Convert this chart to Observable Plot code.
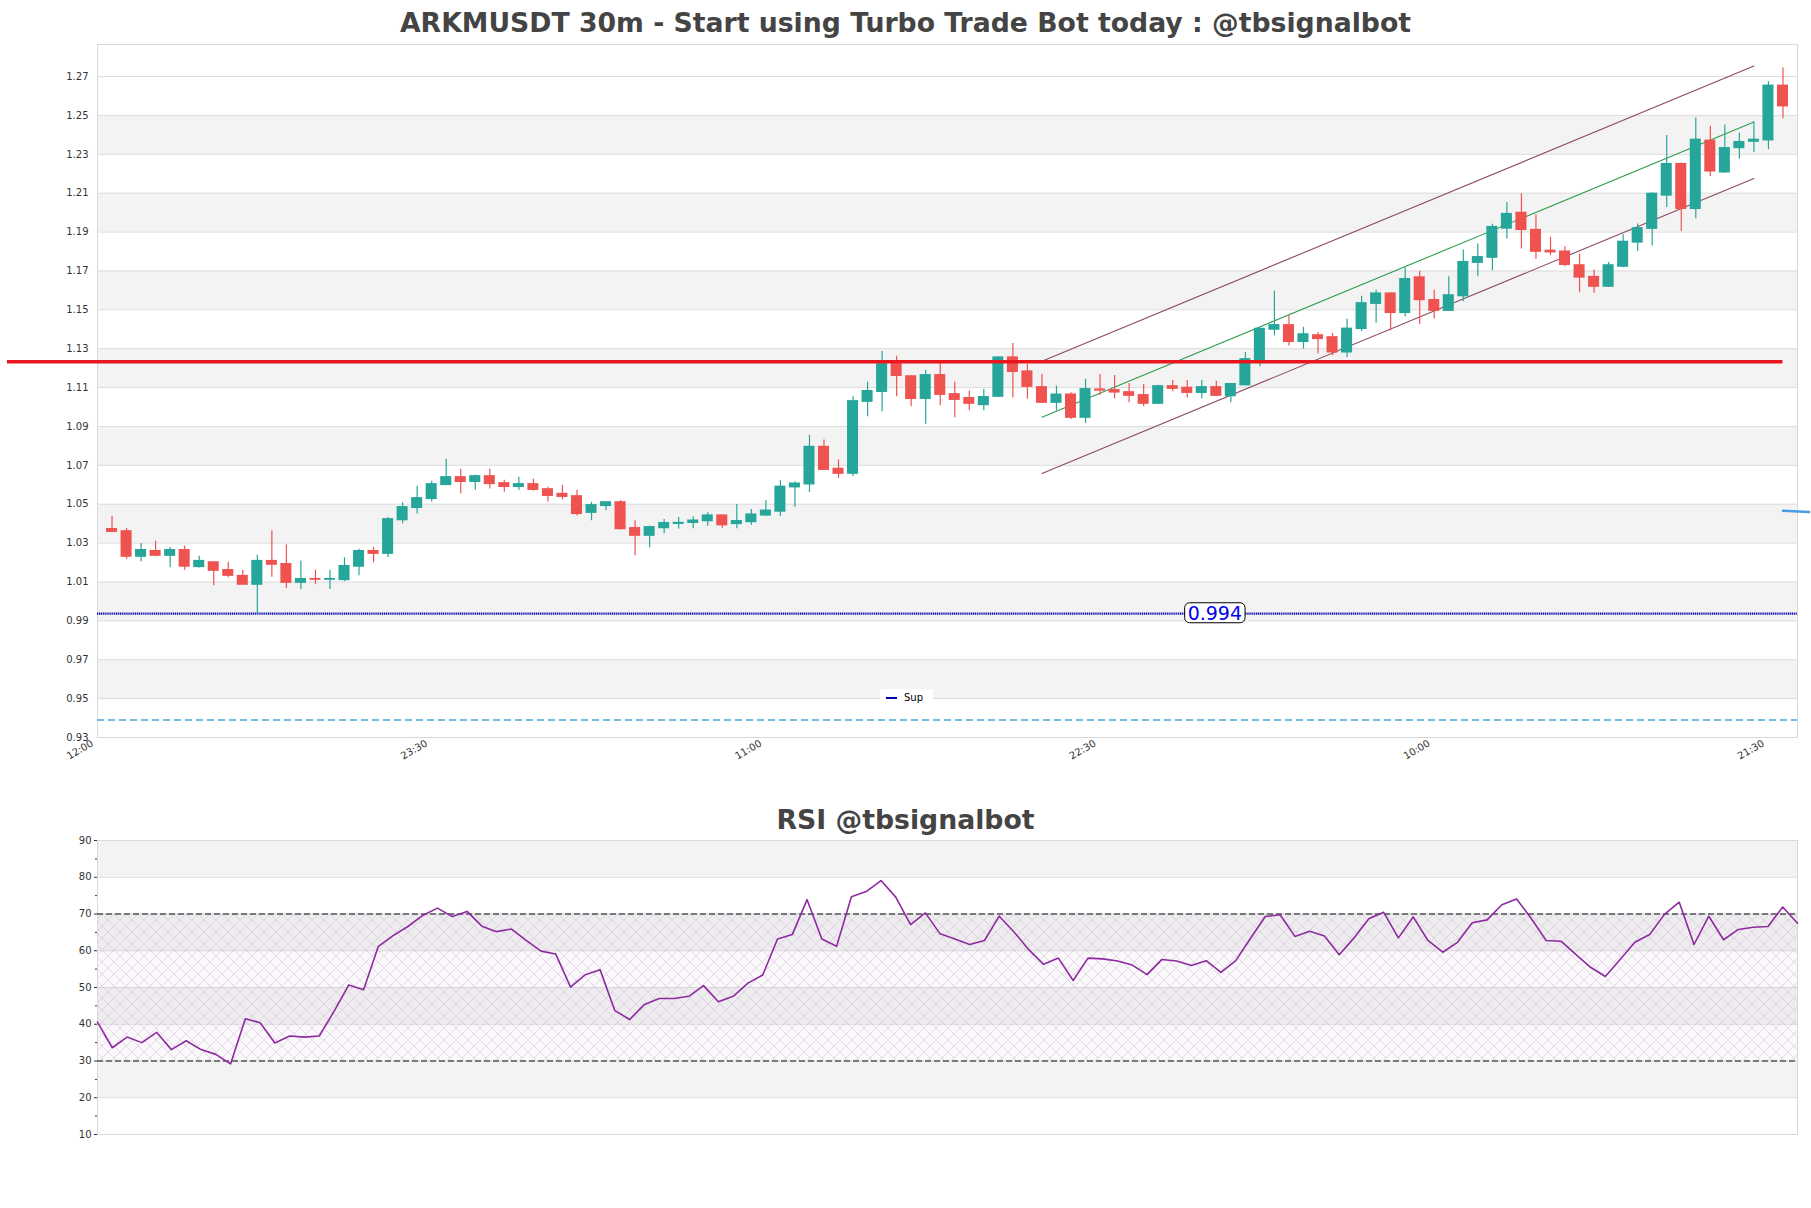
<!DOCTYPE html>
<html><head><meta charset="utf-8">
<script src="https://cdn.jsdelivr.net/npm/d3@7"></script>
<script src="https://cdn.jsdelivr.net/npm/@observablehq/plot@0.6"></script>
<style>
body{margin:0;background:#fff;width:1811px;height:1208px;position:relative;overflow:hidden;font-family:"DejaVu Sans",sans-serif}
.title{position:absolute;left:0;width:1811px;text-align:center;font-weight:bold;font-size:26.7px;color:#444;z-index:2;font-family:"DejaVu Sans",sans-serif}
#main{position:absolute;left:0;top:0}
#rsi{position:absolute;left:0;top:800px}
#legend{position:absolute;left:880px;top:689px;width:53px;height:17px;background:#fff;border-radius:3px;font-size:10px;color:#000;z-index:3;display:flex;align-items:center}
#legend span.sw{display:inline-block;width:11px;height:2px;background:#0000b0;margin:0 7px 0 6px}
</style></head><body>
<div class="title" style="top:7px">ARKMUSDT 30m - Start using Turbo Trade Bot today : @tbsignalbot</div>
<div id="main"></div>
<div class="title" style="top:804px">RSI @tbsignalbot</div>
<div id="rsi"></div>
<div id="legend"><span class="sw"></span>Sup</div>
<script>
// ---- data ----
const tickIdx = [0, 23, 46, 69, 92, 115];
const tickLabels = ["12:00", "23:30", "11:00", "22:30", "10:00", "21:30"];
const yTicks = [0.93,0.95,0.97,0.99,1.01,1.03,1.05,1.07,1.09,1.11,1.13,1.15,1.17,1.19,1.21,1.23,1.25,1.27];
const bandStarts = [0.95,0.99,1.03,1.07,1.11,1.15,1.19,1.23];
const open = [1.0372,1.0361,1.0230,1.0259,1.0235,1.0264,1.0177,1.0201,1.0161,1.0131,1.0086,1.0208,1.0192,1.0096,1.0115,1.0112,1.0110,1.0179,1.0259,1.0245,
1.0418,1.0481,1.0527,1.0599,1.0639,1.0615,1.0644,1.0608,1.0589,1.0603,1.0577,1.0553,1.0541,1.0456,1.0491,1.0510,1.0377,1.0338,1.0377,1.0399,
1.0404,1.0413,1.0442,1.0398,1.0408,1.0442,1.0462,1.0587,1.0602,1.0795,1.0682,1.0657,1.1027,1.1078,1.1220,1.1158,1.1042,1.1164,1.1066,1.1046,
1.1010,1.1053,1.1255,1.1183,1.1102,1.1022,1.1064,1.0945,1.1090,1.1087,1.1076,1.1061,1.1017,1.1107,1.1099,1.1073,1.1102,1.1056,1.1112,1.1241,
1.1398,1.1421,1.1335,1.1369,1.1359,1.1281,1.1402,1.1531,1.1584,1.1484,1.1667,1.1550,1.1495,1.1570,1.1742,1.1768,1.1918,1.1999,1.1911,1.1804,
1.1800,1.1729,1.1669,1.1619,1.1722,1.1846,1.1917,1.2088,1.2250,1.2019,1.2370,1.2207,1.2332,1.2365,1.2372,1.2653];
const high = [1.0438,1.0375,1.0298,1.0310,1.0278,1.0285,1.0233,1.0204,1.0202,1.0161,1.0238,1.0363,1.0290,1.0208,1.0161,1.0161,1.0225,1.0269,1.0278,1.0432,
1.0507,1.0592,1.0618,1.0731,1.0680,1.0650,1.0680,1.0623,1.0639,1.0628,1.0587,1.0597,1.0572,1.0510,1.0510,1.0519,1.0415,1.0387,1.0421,1.0432,
1.0435,1.0456,1.0445,1.0498,1.0473,1.0519,1.0621,1.0616,1.0855,1.0831,1.0728,1.1053,1.1128,1.1286,1.1261,1.1160,1.1189,1.1232,1.1128,1.1082,
1.1090,1.1258,1.1327,1.1219,1.1167,1.1107,1.1073,1.1143,1.1167,1.1162,1.1121,1.1116,1.1112,1.1136,1.1136,1.1136,1.1133,1.1120,1.1280,1.1405,
1.1596,1.1470,1.1410,1.1383,1.1378,1.1452,1.1570,1.1601,1.1587,1.1716,1.1699,1.1601,1.1670,1.1808,1.1839,1.1940,1.2052,1.2097,1.1988,1.1873,
1.1825,1.1786,1.1705,1.1743,1.1886,1.1941,1.2103,1.2397,1.2255,1.2487,1.2444,1.2451,1.2410,1.2466,1.2674,1.2744];
const low = [1.0353,1.0216,1.0204,1.0230,1.0173,1.0161,1.0172,1.0081,1.0122,1.0086,0.9936,1.0124,1.0066,1.0061,1.0086,1.0061,1.0102,1.0132,1.0199,1.0226,
1.0399,1.0450,1.0512,1.0599,1.0553,1.0572,1.0579,1.0562,1.0572,1.0568,1.0512,1.0522,1.0440,1.0415,1.0466,1.0367,1.0235,1.0276,1.0348,1.0372,
1.0374,1.0387,1.0377,1.0374,1.0392,1.0437,1.0437,1.0483,1.0561,1.0672,1.0633,1.0643,1.0950,1.0976,1.1053,1.1001,1.0911,1.1007,1.0945,1.0981,
1.0981,1.1049,1.1047,1.1040,1.1018,1.0981,1.0936,1.0915,1.1059,1.1042,1.1022,1.1001,1.1013,1.1078,1.1047,1.1042,1.1053,1.1022,1.1109,1.1207,
1.1366,1.1314,1.1298,1.1273,1.1264,1.1254,1.1388,1.1431,1.1391,1.1464,1.1424,1.1453,1.1491,1.1541,1.1670,1.1701,1.1864,1.1813,1.1759,1.1778,
1.1722,1.1588,1.1585,1.1616,1.1717,1.1800,1.1828,1.2026,1.1903,1.1968,1.2186,1.2203,1.2276,1.2310,1.2324,1.2483];
const close = [1.0358,1.0230,1.0264,1.0235,1.0264,1.0179,1.0208,1.0158,1.0132,1.0086,1.0208,1.0189,1.0096,1.0115,1.0112,1.0115,1.0182,1.0259,1.0245,1.0423,
1.0485,1.0531,1.0603,1.0639,1.0615,1.0644,1.0604,1.0589,1.0603,1.0574,1.0543,1.0538,1.0450,1.0495,1.0510,1.0372,1.0338,1.0382,1.0403,1.0404,
1.0416,1.0442,1.0392,1.0413,1.0447,1.0467,1.0590,1.0606,1.0795,1.0677,1.0657,1.1030,1.1082,1.1220,1.1160,1.1042,1.1164,1.1063,1.1037,1.1017,
1.1051,1.1255,1.1181,1.1104,1.1022,1.1064,1.0945,1.1092,1.1085,1.1075,1.1058,1.1017,1.1107,1.1094,1.1073,1.1102,1.1058,1.1118,1.1246,1.1402,
1.1421,1.1335,1.1374,1.1350,1.1281,1.1403,1.1534,1.1584,1.1484,1.1658,1.1550,1.1495,1.1575,1.1746,1.1771,1.1926,1.1993,1.1911,1.1799,1.1796,
1.1731,1.1666,1.1619,1.1729,1.1850,1.1920,1.2097,1.2250,1.2019,1.2375,1.2212,1.2332,1.2363,1.2375,1.2653,1.2547];
const rsiValues = [40.6,33.6,36.5,35.0,37.8,33.1,35.5,33.1,31.8,29.2,41.5,40.4,34.9,36.8,36.5,36.8,43.5,50.7,49.4,61.2,
64.1,66.6,69.6,71.6,69.3,70.7,66.7,65.2,65.9,62.8,59.9,59.1,50.1,53.5,54.8,43.7,41.3,45.4,47.0,47.0,
47.6,50.5,46.1,47.6,51.2,53.4,63.2,64.4,73.9,63.2,61.2,74.7,76.1,79.1,74.6,67.1,70.3,64.6,63.2,61.7,
62.8,69.4,65.1,60.3,56.3,58.0,51.9,58.0,57.8,57.2,56.1,53.5,57.6,57.2,56.0,57.3,54.1,57.3,63.4,69.3,
69.8,63.9,65.3,64.0,58.9,63.5,68.7,70.5,63.5,69.2,62.8,59.6,62.3,67.6,68.4,72.5,74.1,68.7,62.8,62.6,
59.0,55.5,53.0,57.6,62.3,64.4,69.9,73.2,61.7,69.4,63.0,65.8,66.4,66.6,71.9,67.5];
const rsiTicks = [10,20,30,40,50,60,70,80,90];
const rsiMinor = [15,25,35,45,55,65,75,85];
const rsiBands = [20,40,60,80];
const rsiLevels = [30, 70];
const resistance = [{price: 1.1233, from: -6.2, to: 116}];
const support = [{price: 0.9937, label: "0.994", at: 76.9}];
const lowLevel = [{price: 0.939}];
const channel = {i0: 65, i1: 114, mid0: 1.0948, mid1: 1.2466, up: 0.0288, down: 0.0290};
const edgeMark = [{i: 116, p: 1.0466}, {i: 117.8, p: 1.0460}];

// ---- derived tables ----
const GREEN = "#26a69a", RED = "#ef5350";
const candles = open.map((o, k) => ({i: k + 1, open: o, high: high[k], low: low[k], close: close[k]}));
const col = d => d.close >= d.open ? GREEN : RED;
const chan = (off) => [{i: channel.i0, p: channel.mid0 + off}, {i: channel.i1, p: channel.mid1 + off}];
const rsiData = rsiValues.map((v, k) => ({k, v}));

const font = {fontFamily: "DejaVu Sans", fontSize: 10};

const main = Plot.plot({
  width: 1811, height: 780,
  marginTop: 44, marginRight: 14, marginBottom: 43, marginLeft: 97,
  style: {background: "transparent", ...font, color: "#333"},
  x: {domain: [0, 117], label: null},
  y: {domain: [0.93, 1.2865], label: null},
  marks: [
    Plot.rect(bandStarts, {y1: d => d, y2: d => d + 0.02, fill: "#f3f3f3"}),
    Plot.ruleY(yTicks, {stroke: "#dcdcdc", strokeWidth: 1}),
    Plot.frame({stroke: "#d9d9d9"}),
    Plot.axisY({ticks: yTicks, tickFormat: d => d.toFixed(2), tickSize: 0, tickPadding: 9, fontSize: 10, label: null}),
    Plot.axisX({ticks: tickIdx, tickFormat: d => tickLabels[tickIdx.indexOf(d)], tickRotate: -30, tickSize: 0, tickPadding: 5, dx: -5, fontSize: 10, label: null}),
    Plot.ruleY(lowLevel, {y: "price", stroke: "#45a8da", strokeWidth: 1.3, strokeDasharray: "7,4"}),
    Plot.ruleY(support, {y: "price", stroke: "#0c0cae", strokeWidth: 2.4, strokeDasharray: "1.2,0.7"}),
    Plot.line(chan(channel.up), {x: "i", y: "p", stroke: "#8c4a63", strokeWidth: 1.1}),
    Plot.line(chan(-channel.down), {x: "i", y: "p", stroke: "#8c4a63", strokeWidth: 1.1}),
    Plot.line(chan(0), {x: "i", y: "p", stroke: "#2e9e4e", strokeWidth: 1.1}),
    Plot.ruleX(candles, {x: "i", y1: "low", y2: "high", stroke: col, strokeWidth: 1.2}),
    Plot.rect(candles, {x1: d => d.i - 0.38, x2: d => d.i + 0.38, y1: "open", y2: "close", fill: col, insetTop: -0.6, insetBottom: -0.6}),
    Plot.ruleY(resistance, {y: "price", x1: "from", x2: "to", stroke: "#e8161e", strokeWidth: 3.4}),
    Plot.line(edgeMark, {x: "i", y: "p", stroke: "#4a9be6", strokeWidth: 2.5}),
    Plot.text(support, {x: "at", y: "price", text: "label", fill: "#0000ee", fontSize: 19, className: "suplabel"})
  ]
});
document.getElementById("main").appendChild(main);
// rounded box behind the support label (measured after the SVG is in the page)
d3.select(main).selectAll(".suplabel text").each(function() {
  const b = this.getBBox();
  d3.select(this.parentNode).insert("rect", () => this)
    .attr("transform", this.getAttribute("transform"))
    .attr("x", b.x - 3).attr("y", b.y + 1).attr("width", b.width + 6).attr("height", b.height - 2)
    .attr("rx", 5).attr("fill", "#fff").attr("stroke", "#000").attr("stroke-width", 1);
});

const rsi = Plot.plot({
  width: 1811, height: 340,
  marginTop: 40, marginRight: 14, marginBottom: 6, marginLeft: 97,
  style: {background: "transparent", ...font, color: "#333"},
  x: {domain: [0, 115], axis: null, label: null},
  y: {domain: [10, 90], label: null},
  marks: [
    Plot.rect(rsiBands, {y1: d => d, y2: d => d + 10, fill: "#f3f3f3"}),
    Plot.ruleY(rsiTicks, {stroke: "#dcdcdc"}),
    Plot.rect([rsiLevels], {y1: d => d[0], y2: d => d[1], fill: "#8e44ad", fillOpacity: 0.035}),
    Plot.rect([rsiLevels], {y1: d => d[0], y2: d => d[1], fill: "url(#hatch)"}),
    Plot.frame({stroke: "#d9d9d9"}),
    Plot.axisY({ticks: rsiTicks, tickSize: 3, tickPadding: 3, fontSize: 10, label: null}),
    Plot.axisY({ticks: rsiMinor, tickSize: 2, tickFormat: () => "", label: null}),
    Plot.ruleY(rsiLevels, {stroke: "#555", strokeWidth: 1.3, strokeDasharray: "6,3"}),
    Plot.line(rsiData, {x: "k", y: "v", stroke: "#8e2aa0", strokeWidth: 1.6})
  ]
});
const defs = d3.select(rsi).insert("defs", ":first-child");
const pat = defs.append("pattern").attr("id", "hatch").attr("patternUnits", "userSpaceOnUse").attr("width", 12).attr("height", 12);
pat.append("path").attr("d", "M0,0L12,12M12,0L0,12").attr("stroke", "#c9bccf").attr("stroke-width", 0.5).attr("fill", "none");
document.getElementById("rsi").appendChild(rsi);
</script>
</body></html>
